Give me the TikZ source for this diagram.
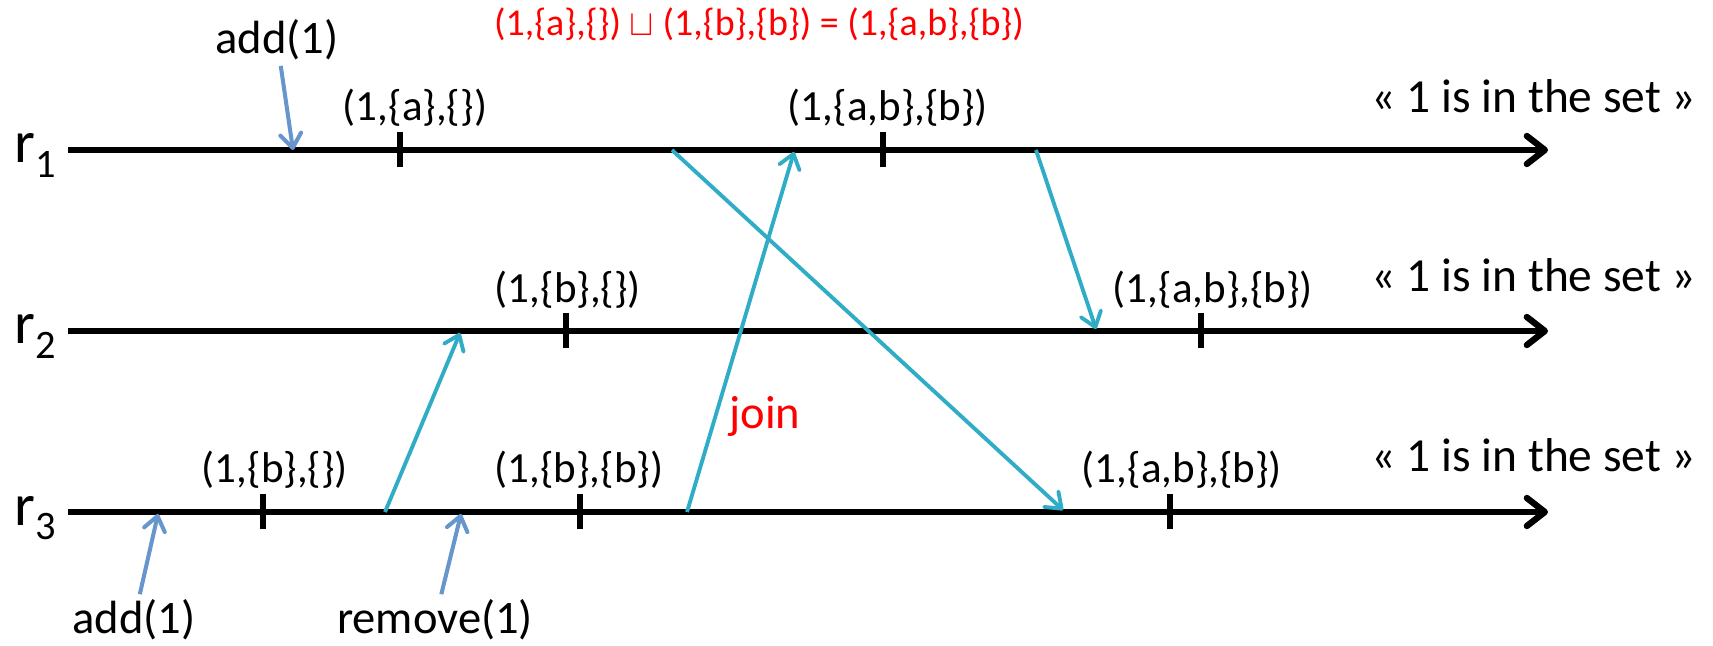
\documentclass[tikz,border=0pt]{standalone}
\usepackage{fontspec}
\setmainfont{Carlito}
\usepackage{xcolor}
\usetikzlibrary{arrows.meta,positioning,calc}
\definecolor{msgteal}{RGB}{49,172,198}
\definecolor{opblue}{RGB}{102,150,204}
\definecolor{mergered}{RGB}{255,0,0}
\tikzset{
  replica/.style={line width=3.6pt, -{Straight Barb[length=0.36cm, width=0.56cm, round]}},
  tickmark/.style={line width=3.2pt},
  msgarrow/.style={draw=msgteal, line width=2.2pt, -{Straight Barb[length=0.28cm, width=0.42cm, round]}},
  oparrow/.style={draw=opblue, line width=2.3pt, -{Straight Barb[length=0.28cm, width=0.42cm, round]}, shorten <=2pt},
  tuplelabel/.style={font=\fontsize{24.5}{29}\selectfont, inner sep=0pt},
  oplabel/.style={font=\fontsize{26.5}{31}\selectfont, inner sep=1pt},
  setlabel/.style={font=\fontsize{27}{32}\selectfont, inner sep=0pt},
  replabel/.style={font=\fontsize{34}{40}\selectfont, anchor=base west, inner sep=0pt}
}
\newcommand{\repname}[1]{r\raisebox{-8.5pt}{\fontsize{23}{27}\selectfont #1}}

\begin{document}
\begin{tikzpicture}
\useasboundingbox (0,0) rectangle (34.26,12.9);

% replicas
\node[replabel] (r1) at (0.28,9.64) {\repname{1}};
\node[replabel] (r2) at (0.28,6.02) {\repname{2}};
\node[replabel] (r3) at (0.28,2.40) {\repname{3}};
\coordinate (r1start) at (1.36,9.9);  \coordinate (r1end) at (30.96,9.9);
\coordinate (r2start) at (1.36,6.28); \coordinate (r2end) at (30.96,6.28);
\coordinate (r3start) at (1.36,2.66); \coordinate (r3end) at (30.96,2.66);
\draw[replica] (r1start) -- (r1end);
\draw[replica] (r2start) -- (r2end);
\draw[replica] (r3start) -- (r3end);

% states
\foreach \x in {8.0,17.66} \draw[tickmark] (\x,9.55) -- (\x,10.25);
\foreach \x in {11.32,24.02} \draw[tickmark] (\x,5.93) -- (\x,6.63);
\foreach \x in {5.26,11.6,23.4} \draw[tickmark] (\x,2.31) -- (\x,3.01);
\node[tuplelabel] (s1a) at (8.3,10.74) {(1,\{a\},\{\})};
\node[tuplelabel] (s1b) at (17.76,10.74) {(1,\{a,b\},\{b\})};
\node[tuplelabel] (s2a) at (11.36,7.10) {(1,\{b\},\{\})};
\node[tuplelabel] (s2b) at (24.26,7.10) {(1,\{a,b\},\{b\})};
\node[tuplelabel] (s3a) at (5.5,3.50) {(1,\{b\},\{\})};
\node[tuplelabel] (s3b) at (11.58,3.50) {(1,\{b\},\{b\})};
\node[tuplelabel] (s3c) at (23.64,3.50) {(1,\{a,b\},\{b\})};

% queries
\node[setlabel] (q1) at (30.68,10.98) {« 1 is in the set »};
\node[setlabel] (q2) at (30.68,7.40) {« 1 is in the set »};
\node[setlabel] (q3) at (30.68,3.80) {« 1 is in the set »};

% merge
\node[tuplelabel, text=mergered, font=\fontsize{21.6}{26}\selectfont] (merge) at (15.18,12.42)
  {(1,\{a\},\{\}) $\sqcup$ (1,\{b\},\{b\}) = (1,\{a,b\},\{b\})};

% operations
\node[oplabel] (add1) at (5.54,12.1) {add(1)};
\node[oplabel] (add3) at (2.68,0.5) {add(1)};
\node[oplabel] (rem3) at (8.7,0.5) {remove(1)};
\coordinate (add1hit) at (5.86,9.9);
\coordinate (add3hit) at (3.16,2.62);
\coordinate (rem3hit) at (9.22,2.62);
\draw[oparrow] (add1) -- (add1hit);
\draw[oparrow] (add3) -- (add3hit);
\draw[oparrow] (rem3) -- (rem3hit);

% messages
\coordinate (m1out) at (7.7,2.66);   \coordinate (m1in) at (9.2,6.24);
\coordinate (m2out) at (13.74,2.66); \coordinate (m2in) at (15.88,9.86);
\coordinate (m3out) at (13.44,9.9);  \coordinate (m3in) at (21.26,2.70);
\coordinate (m4out) at (20.72,9.9);  \coordinate (m4in) at (21.92,6.32);
\draw[msgarrow] (m1out) -- (m1in);
\draw[msgarrow] (m2out) -- (m2in);
\draw[msgarrow] (m3out) -- (m3in);
\draw[msgarrow] (m4out) -- (m4in);
\node[oplabel, text=mergered] (join) at (15.3,4.58) {join};
\end{tikzpicture}
\end{document}
